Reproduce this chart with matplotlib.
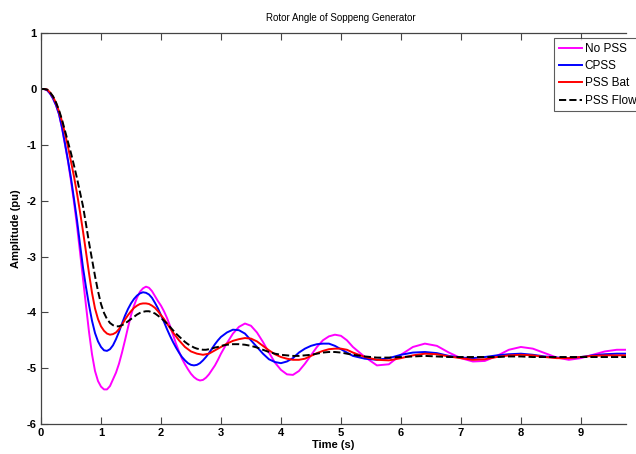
import matplotlib
matplotlib.use("Agg")
import matplotlib.pyplot as plt

plt.rcParams["font.family"] = ["Liberation Sans", "DejaVu Sans"]
plt.rcParams["axes.unicode_minus"] = False

# sample times (s): 0.05 s steps to 3.0, 0.1 s to 5.2, 0.2 s to 9.8
t_fine = [round(0.05 * i, 2) for i in range(61)]
t_mid = [round(3.1 + 0.1 * i, 1) for i in range(22)]
t_coarse = [round(5.4 + 0.2 * i, 1) for i in range(23)]
time = t_fine + t_mid + t_coarse

no_pss = [0.0, 0.0, -0.02, -0.08, -0.17, -0.29, -0.45, -0.7, -1.0, -1.3,
          -1.65, -2.03, -2.45, -2.92, -3.4, -3.88, -4.35, -4.75, -5.05, -5.23,
          -5.33, -5.38, -5.38, -5.32, -5.2, -5.08, -4.92, -4.72, -4.5, -4.27,
          -4.05, -3.88, -3.74, -3.63, -3.57, -3.54, -3.56, -3.62, -3.71, -3.8,
          -3.88, -3.98, -4.1, -4.24, -4.4, -4.56, -4.7, -4.83, -4.93, -5.02,
          -5.1, -5.16, -5.2, -5.22, -5.21, -5.17, -5.11, -5.03, -4.95, -4.85,
          -4.74,
          -4.55, -4.38, -4.26, -4.2, -4.24, -4.36, -4.53, -4.72, -4.9, -5.03,
          -5.11, -5.12, -5.05, -4.92, -4.77, -4.62, -4.5, -4.43, -4.4, -4.42,
          -4.5, -4.62,
          -4.8, -4.95, -4.93, -4.76, -4.62, -4.56, -4.6, -4.72, -4.82, -4.88,
          -4.87, -4.78, -4.67, -4.62, -4.65, -4.73, -4.81, -4.85, -4.82, -4.76,
          -4.7, -4.67, -4.67]

cpss = [0.0, 0.0, -0.02, -0.08, -0.17, -0.29, -0.45, -0.69, -0.98, -1.28,
        -1.6, -1.97, -2.35, -2.78, -3.2, -3.55, -3.87, -4.15, -4.37, -4.52,
        -4.62, -4.68, -4.69, -4.66, -4.59, -4.48, -4.35, -4.2, -4.06, -3.94,
        -3.84, -3.76, -3.7, -3.66, -3.64, -3.65, -3.68, -3.74, -3.83, -3.93,
        -4.05, -4.17, -4.3, -4.42, -4.53, -4.63, -4.72, -4.8, -4.86, -4.91,
        -4.94, -4.95, -4.94, -4.91, -4.86, -4.8, -4.73, -4.65, -4.57, -4.5,
        -4.44,
        -4.36, -4.31, -4.32, -4.38, -4.5, -4.62, -4.74, -4.84, -4.89, -4.91,
        -4.88, -4.82, -4.72, -4.65, -4.6, -4.57, -4.56, -4.56, -4.6, -4.66,
        -4.72, -4.78,
        -4.83, -4.85, -4.82, -4.76, -4.72, -4.71, -4.73, -4.78, -4.81, -4.82,
        -4.8, -4.77, -4.75, -4.74, -4.76, -4.79, -4.81, -4.82, -4.8, -4.77,
        -4.75, -4.74, -4.74]

pss_bat = [0.0, 0.0, -0.01, -0.06, -0.14, -0.25, -0.4, -0.58, -0.8, -1.04,
           -1.3, -1.57, -1.87, -2.2, -2.55, -2.92, -3.3, -3.65, -3.93, -4.12,
           -4.25, -4.33, -4.38, -4.4, -4.39, -4.36, -4.3, -4.22, -4.13, -4.05,
           -3.98, -3.92, -3.88, -3.85, -3.84, -3.84, -3.85, -3.88, -3.92, -3.98,
           -4.05, -4.12, -4.2, -4.28, -4.36, -4.43, -4.5, -4.56, -4.62, -4.66,
           -4.7, -4.72, -4.74, -4.75, -4.76, -4.75, -4.74, -4.71, -4.68, -4.65,
           -4.62,
           -4.56, -4.51, -4.48, -4.46, -4.47, -4.52, -4.6, -4.68, -4.75, -4.8,
           -4.83, -4.85, -4.85, -4.83, -4.78, -4.73, -4.69, -4.66, -4.65, -4.65,
           -4.67, -4.72,
           -4.8, -4.85, -4.86, -4.82, -4.77, -4.74, -4.75, -4.79, -4.82, -4.85,
           -4.84, -4.8, -4.77, -4.76, -4.77, -4.8, -4.82, -4.82, -4.8, -4.78,
           -4.77, -4.77, -4.77]

pss_flow = [0.0, 0.0, -0.01, -0.06, -0.13, -0.24, -0.38, -0.55, -0.75, -0.95,
            -1.15, -1.37, -1.6, -1.85, -2.1, -2.42, -2.75, -3.05, -3.35, -3.62,
            -3.85, -4.01, -4.12, -4.19, -4.23, -4.25, -4.25, -4.23, -4.2, -4.16,
            -4.12, -4.08, -4.04, -4.01, -3.99, -3.98, -3.98, -4.0, -4.02, -4.06,
            -4.1, -4.15, -4.2, -4.26, -4.32, -4.38, -4.43, -4.48, -4.53, -4.57,
            -4.6, -4.63, -4.65, -4.66, -4.67, -4.67, -4.66, -4.65, -4.63, -4.62,
            -4.6,
            -4.58, -4.57, -4.57, -4.58, -4.6, -4.63, -4.67, -4.71, -4.74, -4.76,
            -4.77, -4.78, -4.78, -4.77, -4.76, -4.74, -4.72, -4.71, -4.71, -4.72,
            -4.74, -4.76,
            -4.79, -4.81, -4.81, -4.8, -4.79, -4.78, -4.79, -4.8, -4.8, -4.8,
            -4.8, -4.8, -4.79, -4.79, -4.8, -4.8, -4.8, -4.8, -4.8, -4.8,
            -4.8, -4.8, -4.8]

series = [
    ("No PSS", no_pss, "#ff00ff", "-"),
    ("CPSS", cpss, "#0000ff", "-"),
    ("PSS Bat", pss_bat, "#ff0000", "-"),
    ("PSS Flow", pss_flow, "#000000", "--"),
]

fig = plt.figure(figsize=(6.36, 4.54), dpi=100)
ax = fig.add_axes([0.0645, 0.066, 0.9195, 0.861])

for name, vals, color, ls in series:
    ax.plot(time, vals, color=color, linestyle=ls, linewidth=1.4, label=name)

ax.set_xlim(0, 9.75)
ax.set_ylim(-6, 1)
ax.set_xticks(range(0, 10))
ax.set_yticks(range(-6, 2))
ax.tick_params(direction="in", length=5, width=0.8, top=True, right=False,
               labelsize=8, pad=3, colors="#444444", labelcolor="black")
for lab in ax.get_xticklabels() + ax.get_yticklabels():
    lab.set_fontweight("bold")
ax.spines["right"].set_visible(False)
for side in ["left", "top", "bottom"]:
    ax.spines[side].set_color("#444444")
    ax.spines[side].set_linewidth(0.9)

ax.set_title("Rotor Angle of Soppeng Generator", fontsize=7, pad=9, x=0.512)
ax.set_xlabel("Time (s)", fontsize=8, fontweight="bold", labelpad=1)
ax.set_ylabel("Amplitude (pu)", fontsize=8, fontweight="bold", labelpad=4)

leg = fig.legend(loc="upper left", bbox_to_anchor=(554 / 636, 1 - 38 / 454),
                 fontsize=8.5, frameon=True, fancybox=False, borderpad=0.4,
                 labelspacing=0.45, handlelength=2.0, handletextpad=0.2,
                 borderaxespad=0)
leg.get_frame().set_edgecolor("#333333")
leg.get_frame().set_linewidth(0.8)

fig.savefig("out.png", dpi=100)
